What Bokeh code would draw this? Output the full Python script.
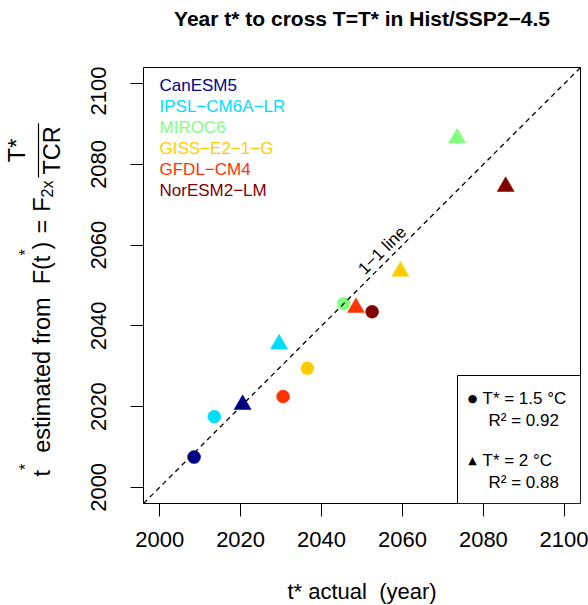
from bokeh.plotting import figure
from bokeh.layouts import row, column
from bokeh.models import (ColumnDataSource, Range1d, FixedTicker, Label, Slope,
                          BoxAnnotation, Arrow)
from bokeh.embed import file_html
from bokeh.resources import INLINE

# ---------------- data ----------------
models = ["CanESM5", "IPSL\u2212CM6A\u2212LR", "MIROC6", "GISS\u2212E2\u22121\u2212G",
          "GFDL\u2212CM4", "NorESM2\u2212LM"]
colors = ["#00008F", "#00DDFF", "#80FF80", "#FFCC00", "#FF3300", "#800000"]
actual_15 = [2008.5, 2013.5, 2045.5, 2036.5, 2030.5, 2052.5]
estimated_15 = [2007.5, 2017.5, 2045.5, 2029.5, 2022.5, 2043.5]
actual_20 = [2020.5, 2029.5, 2073.5, 2059.5, 2048.5, 2085.5]
estimated_20 = [2020.5, 2035.5, 2086.5, 2053.5, 2044.5, 2074.5]
tstar_levels = ["1.5", "2"]
r2_values = ["0.92", "0.88"]
ticks = [2000, 2020, 2040, 2060, 2080, 2100]
lims = [1996, 2104]

FONT = "Liberation Sans"

# overall geometry (pixels)
W, H = 588, 605
FL, FT, FW, FH = 143, 67, 437, 436     # plot frame in page pixels
LW = 75                                # left strip (y title)
TH = 66                                # top strip (main title)
BH = 30                                # bottom strip (x title)


def X(px):
    return lims[0] + (px - FL) / FW * (lims[1] - lims[0])


def Y(py):
    return lims[1] - (py - FT) / FH * (lims[1] - lims[0])


def strip(w, h, xr):
    f = figure(width=w, height=h, x_range=Range1d(*xr), y_range=Range1d(h, 0),
               min_border_left=0, min_border_right=0, min_border_top=0,
               min_border_bottom=0, x_axis_location=None, y_axis_location=None,
               output_backend="svg", toolbar_location=None)
    f.outline_line_color = None
    f.grid.visible = False
    f.background_fill_color = "white"
    f.border_fill_color = "white"
    return f


# ---------------- main plot ----------------
PH = H - TH - BH
p = figure(width=W - LW, height=PH, x_range=Range1d(*lims), y_range=Range1d(*lims),
           min_border_left=FL - LW, min_border_right=W - FL - FW,
           min_border_top=FT - TH, min_border_bottom=PH - (FT - TH) - FH,
           output_backend="svg", toolbar_location=None)
p.grid.visible = False
p.outline_line_color = "black"
p.outline_line_width = 1
p.outline_line_alpha = 1
p.background_fill_color = "white"
p.border_fill_color = "white"

for ax in (p.xaxis[0], p.yaxis[0]):
    ax.ticker = FixedTicker(ticks=ticks)
    ax.minor_tick_line_color = None
    ax.major_tick_out = 13
    ax.major_tick_in = 0
    ax.major_tick_line_color = "black"
    ax.axis_line_color = None
    ax.major_label_text_font = FONT
    ax.major_label_text_font_size = "22px"
    ax.major_label_text_color = "black"
p.xaxis.major_label_standoff = 15
p.yaxis.major_label_standoff = 24
p.yaxis.major_label_orientation = "vertical"

src15 = ColumnDataSource(dict(x=actual_15, y=estimated_15, color=colors, model=models))
src20 = ColumnDataSource(dict(x=actual_20, y=estimated_20, color=colors, model=models))
p.scatter(x="x", y="y", source=src15, marker="circle", size=13,
          fill_color="color", line_color="color", line_width=0.5)
p.scatter(x="x", y="y", source=src20, marker="triangle", size=17,
          fill_color="color", line_color="color", line_width=0.5)

# 1-1 line
p.add_layout(Slope(gradient=1, y_intercept=0, line_color="black",
                   line_dash="5 4", line_width=1.3))
p.add_layout(Label(x=2055.0, y=2058.7, text="1\u22121 line", angle=45, angle_units="deg",
                   text_align="center", text_baseline="middle", text_font=FONT,
                   text_font_size="17px", text_color="black"))

# model legend (coloured text only)
for i, (m, c) in enumerate(zip(models, colors)):
    p.add_layout(Label(x=X(159), y=Y(85 + 21 * i), text=m, text_color=c,
                       text_font=FONT, text_font_size="17px",
                       text_align="left", text_baseline="middle"))

# bottom-right legend box
p.add_layout(BoxAnnotation(left=X(457), right=X(FL + FW), top=Y(375), bottom=Y(FT + FH),
                           fill_color="white", fill_alpha=1, line_color="black",
                           line_width=1, line_alpha=1))
symbols = ["\u25CF", "\u25B2"]
for k in range(2):
    y0 = 398 + 62 * k
    p.add_layout(Label(x=X(472), y=Y(y0), text=symbols[k], text_font="DejaVu Sans",
                       text_font_size="11px", text_align="center", text_baseline="middle",
                       text_color="black"))
    p.add_layout(Label(x=X(482), y=Y(y0), text=f"T* = {tstar_levels[k]} \u00B0C",
                       text_font=FONT, text_font_size="17px", text_align="left",
                       text_baseline="middle", text_color="black"))
    p.add_layout(Label(x=X(488), y=Y(y0 + 22), text=f"R\u00B2 = {r2_values[k]}",
                       text_font=FONT, text_font_size="17px", text_align="left",
                       text_baseline="middle", text_color="black"))

# ---------------- top strip: title (frame aligned with the plot frame) ----------------
top = strip(W - LW, TH, (FL, FL + FW))
top.add_layout(Label(x=FL + FW / 2, y=18, text="Year t* to cross T=T* in Hist/SSP2\u22124.5",
                     text_font=FONT, text_font_size="21px", text_font_style="bold",
                     text_align="center", text_baseline="middle", text_color="black"))

# ---------------- bottom strip: x title ----------------
bottom = strip(W - LW, BH, (FL, FL + FW))
bottom.add_layout(Label(x=FL + FW / 2, y=591 - (H - BH), text="t* actual \u00A0(year)",
                        text_font=FONT, text_font_size="22px", text_align="center",
                        text_baseline="middle", text_color="black"))

# ---------------- left strip: y title ----------------
left = strip(LW, H, (0, LW))
AW = {"t": 278, "*": 389, "e": 556, "s": 500, "i": 222, "m": 833, "a": 556, "d": 556,
      " ": 278, "f": 278, "r": 333, "o": 556, "F": 611, "(": 333, ")": 333, "=": 584,
      "2": 556, "x": 500, "T": 611, "C": 722, "R": 722}


def tw(s, size):
    return sum(AW[c] for c in s) * size / 1000.0


cursor = [476.0]
SHIFT = -10  # renderer offset of rotated alphabetic baseline
FS, SS = 23.5, 16


def put(text, size, bx):
    left.add_layout(Label(x=bx + SHIFT, y=cursor[0], text=text, angle=90, angle_units="deg",
                          text_font=FONT, text_font_size=f"{size}px", text_align="left",
                          text_baseline="alphabetic", text_color="black"))
    cursor[0] -= tw(text, size)


BASE = 51
put("t", FS, BASE)
put("*", SS, BASE - 16)
cursor[0] -= 11
put("estimated from", FS, BASE)
cursor[0] -= 13
put("F(t", FS, BASE)
put("*", SS, BASE - 16)
put(")", FS, BASE)
cursor[0] -= 8
put("=", FS, BASE)
cursor[0] -= 8
put("F", FS, BASE)
put("2x", SS, BASE + 6)
cursor[0] -= 3
bar0 = cursor[0]
barL = tw("TCR", FS) + 6
mid = bar0 - barL / 2
left.add_layout(Arrow(start=None, end=None, x_start=38, y_start=bar0, x_end=38,
                      y_end=bar0 - barL, line_color="black", line_width=1.2))
cursor[0] = mid + tw("T*", FS) / 2
put("T*", FS, 26)
cursor[0] = mid + tw("TCR", FS) / 2
put("TCR", FS, 61)

layout = row(left, column(top, p, bottom))
open("out.html", "w").write(file_html(layout, INLINE))
